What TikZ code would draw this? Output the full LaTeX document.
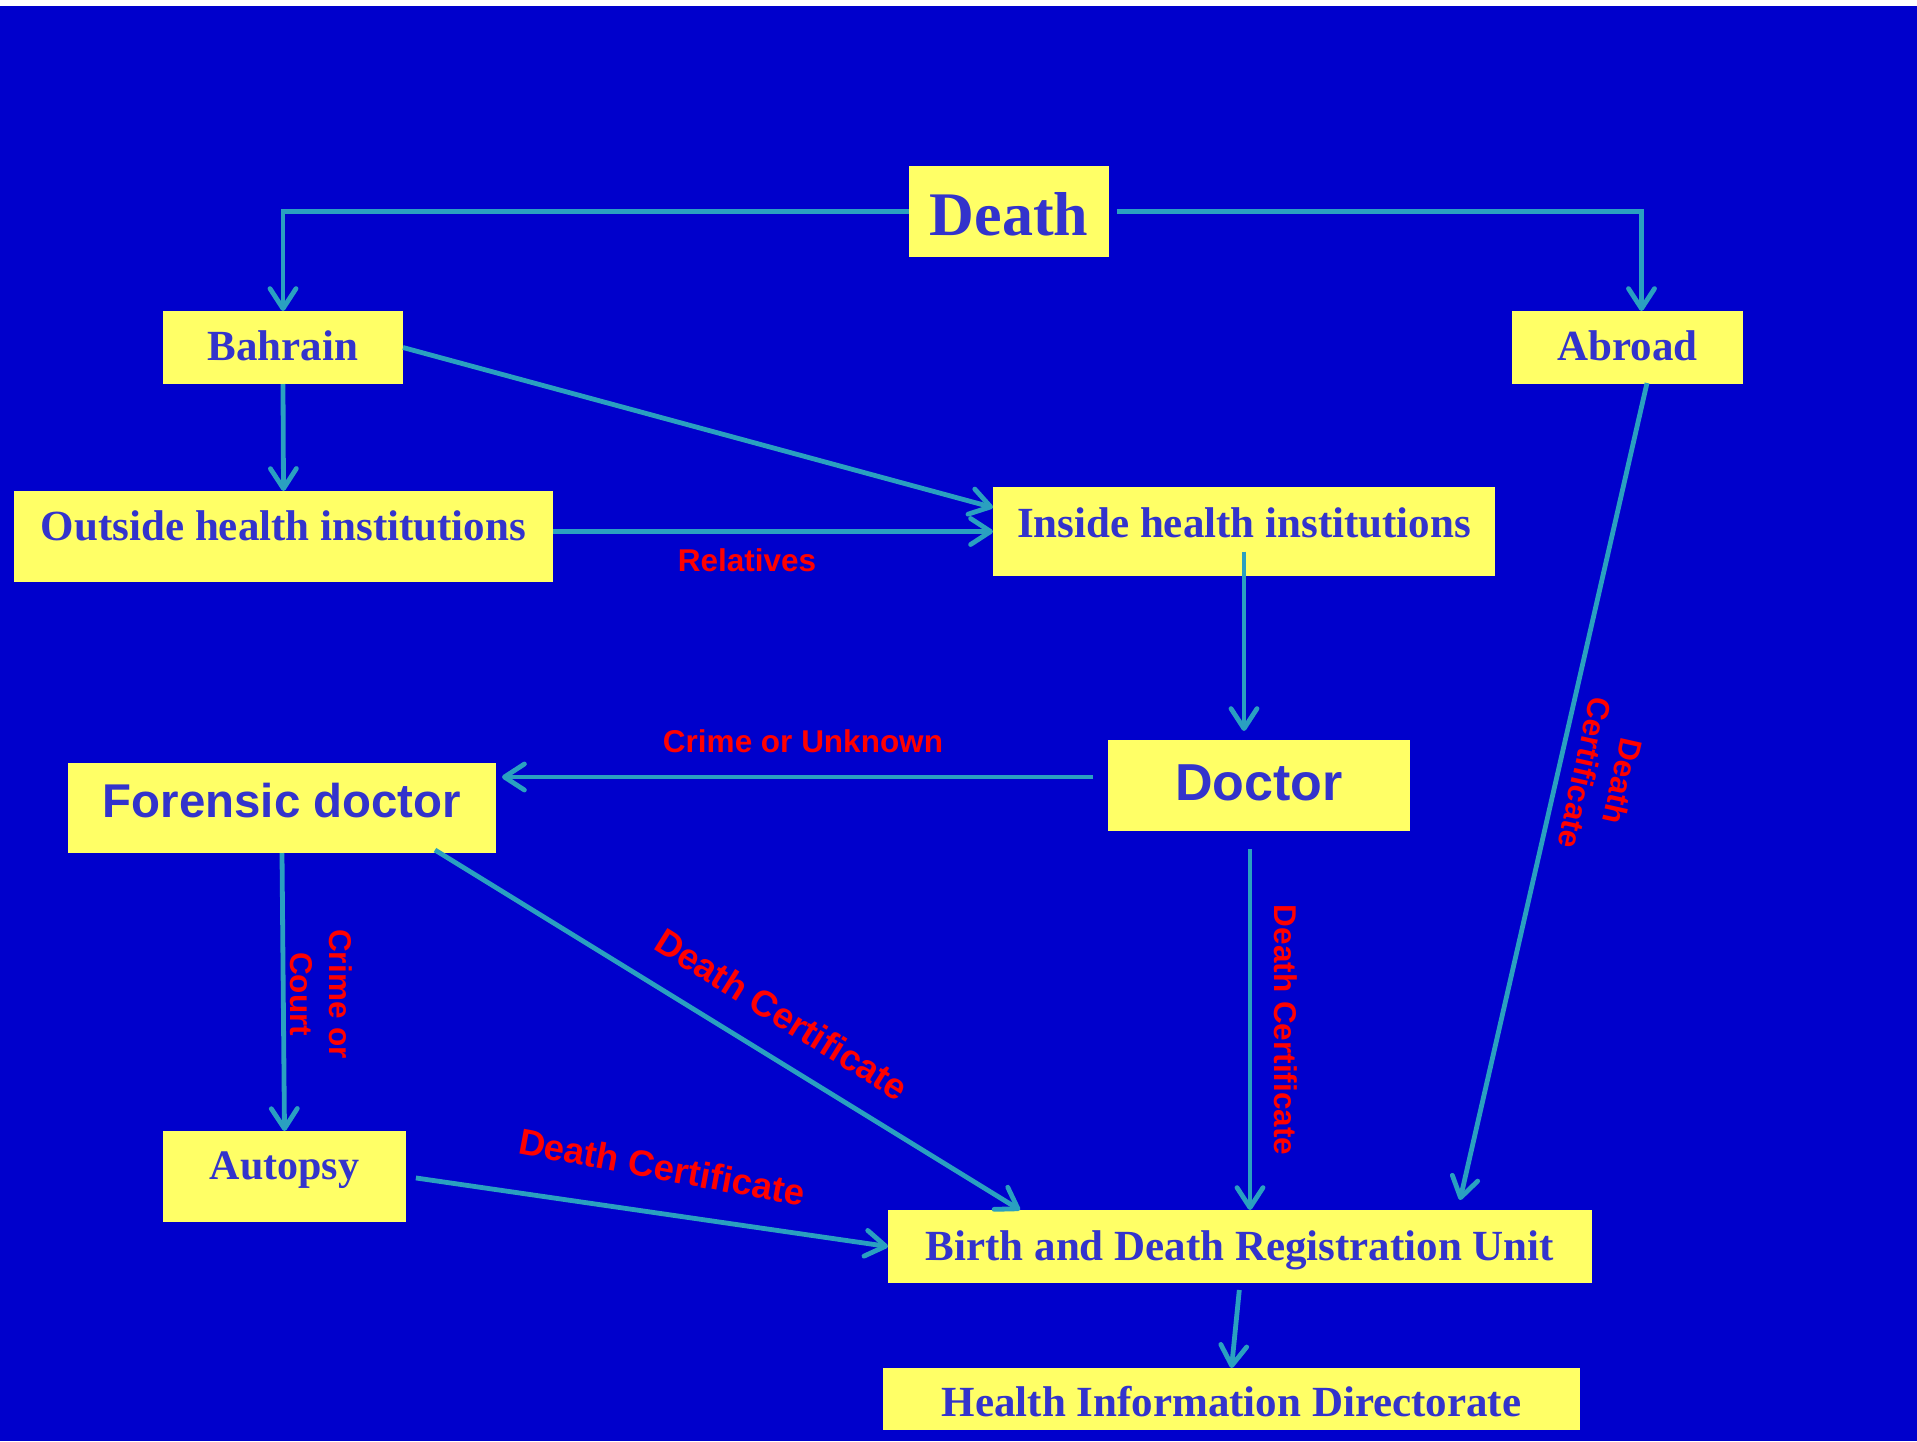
\documentclass[tikz,border=0pt]{standalone}
\usepackage{fontspec}
\setmainfont{Liberation Serif}
\newfontfamily\arialf{Liberation Sans}
\usetikzlibrary{arrows.meta,calc}
\definecolor{bgblue}{HTML}{0000CC}
\definecolor{boxyellow}{HTML}{FFFF66}
\definecolor{txtblue}{HTML}{3333CC}
\definecolor{linecol}{HTML}{2AA0C0}
\definecolor{lblred}{HTML}{FF0000}
\tikzset{
  box/.style={fill=boxyellow, inner sep=0pt, outer sep=0pt, text=txtblue, align=center},
  serifbox/.style={box, font=\bfseries\fontsize{21.5pt}{24pt}\selectfont},
  sansbox/.style={box, font=\arialf\bfseries\fontsize{#1}{#1}\selectfont},
  arr/.style={draw=linecol, line width=2.4pt, -{Straight Barb[length=10pt,width=13pt,round]}},
  lbl/.style={text=lblred, inner sep=0pt, align=center, font=\arialf\bfseries\fontsize{15.75pt}{19.5pt}\selectfont},
  biglbl/.style={text=lblred, inner sep=0pt, align=center, font=\arialf\bfseries\fontsize{18.25pt}{22pt}\selectfont},
}
\begin{document}
\begin{tikzpicture}[x=0.5pt,y=-0.5pt]
\useasboundingbox (0,0) rectangle (1917,1441);
\fill[white] (0,0) rectangle (1917,6);
\fill[bgblue] (0,6) rectangle (1917,1441);

% boxes
\node[box, font=\bfseries\fontsize{31pt}{34pt}\selectfont, minimum width=100pt, minimum height=45.5pt, text height=34.5pt, text depth=11pt] (death) at (1009,211.5) {Death};
\node[serifbox, minimum width=120pt, minimum height=36.5pt, text height=24.5pt, text depth=12pt] (bahrain) at (283,347.5) {Bahrain};
\node[serifbox, minimum width=115.5pt, minimum height=36.5pt, text height=24.5pt, text depth=12pt] (abroad) at (1627.5,347.5) {Abroad};
\node[serifbox, minimum width=269.5pt, minimum height=45.5pt, text height=24.5pt, text depth=21pt] (outside) at (283.5,536.5) {Outside health institutions};
\node[serifbox, minimum width=251pt, minimum height=44.5pt, text height=25pt, text depth=19.5pt] (inside) at (1244,531.5) {Inside health institutions};
\node[sansbox=23.7pt, minimum width=214pt, minimum height=45pt, text height=27pt, text depth=18pt] (forensic) at (282,808) {Forensic doctor};
\node[sansbox=26pt, minimum width=151pt, minimum height=45.5pt, text height=30pt, text depth=15.5pt] (doctor) at (1259,785.5) {Doctor};
\node[box, font=\bfseries\fontsize{21pt}{24pt}\selectfont, minimum width=121.5pt, minimum height=45.5pt, text height=24pt, text depth=21.5pt] (autopsy) at (284.5,1176.5) {Autopsy};
\node[serifbox, minimum width=352pt, minimum height=36.5pt, text height=25pt, text depth=11.5pt] (bdru) at (1240,1246.5) {Birth and Death Registration Unit};
\node[serifbox, minimum width=348.5pt, minimum height=31pt, text height=24pt, text depth=7pt] (hid) at (1231.5,1399) {Health Information Directorate};

% connectors
\draw[arr] (death.west) -| (bahrain.north);
\draw[arr] ([xshift=4pt]death.east) -| ([xshift=7pt]abroad.north);
\draw[arr] (bahrain.south) -- (outside.north);
\draw[arr] (bahrain.east) -- ([yshift=12pt]inside.west);
\draw[arr] (outside.east |- inside.west) -- (inside.west);
\draw[arr, shorten >=4.5pt] ([yshift=-10pt]inside.center) -- (inside.center |- doctor.north);
\coordinate (dfs) at ($(doctor.west)+(-7.5pt,4.25pt)$);
\draw[arr] (dfs) -- ($(forensic.east |- dfs)+(3pt,0)$);
\draw[arr] (forensic.south) -- (autopsy.north);
\draw[arr] ($(forensic.south east)+(-30.5pt,1.5pt)$) -- ($(bdru.north west)+(66pt,0)$);
\draw[arr, shorten <=5pt] (autopsy.east) -- (bdru.west);
\coordinate (dbs) at ($(doctor.south)+(-4.5pt,-9pt)$);
\draw[arr] (dbs) -- (dbs |- bdru.north);
\draw[arr] ($(abroad.south)+(9.75pt,0.5pt)$) -- ($(bdru.north east)+(-66pt,5pt)$);
\draw[arr, shorten <=3.5pt] (bdru.south) -- (hid.north);

% labels
\node[lbl] (lrel) at (747,560) {Relatives};
\node[lbl] (lcu) at (803,741) {Crime or Unknown};
\node[lbl, rotate=-90] (lcc) at (321,994) {Crime or\\Court};
\node[lbl, rotate=-90] (ldc1) at (1286,1030) {Death Certificate};
\node[lbl, rotate=-102.6] (ldc2) at (1604,777) {Death\\Certificate};
\node[biglbl, rotate=-32] (ldc3) at (782,1014) {Death Certificate};
\node[biglbl, rotate=-10.5] (ldc4) at (662,1167) {Death Certificate};
\end{tikzpicture}
\end{document}
